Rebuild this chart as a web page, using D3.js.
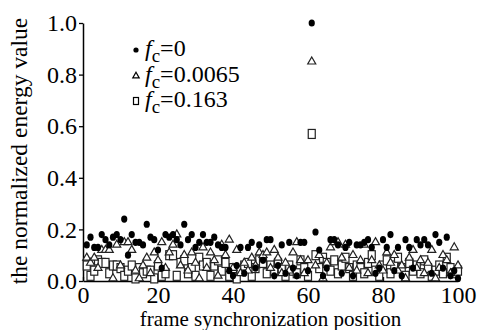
<!DOCTYPE html>
<html>
<head>
<meta charset="utf-8">
<script src="https://cdn.jsdelivr.net/npm/d3@7/dist/d3.min.js"></script>
<style>
    body { margin: 0; background: #fff; }
    svg text { font-family: "Liberation Serif", Tinos, "Times New Roman", Times, "DejaVu Serif", serif; fill: #000; }
</style>
</head>
<body>
<div id="chart"></div>
<script>

// frame synchronization positions 1..100
const positions = d3.range(1, 101);

// f_c = 0 (filled circles)
const energyFc0 = [
    0.14, 0.17, 0.13, 0.13, 0.18, 0.16, 0.14, 0.17, 0.18, 0.16,
    0.24, 0.10, 0.18, 0.15, 0.15, 0.14, 0.22, 0.17, 0.16, 0.12,
    0.05, 0.18, 0.17, 0.18, 0.16, 0.14, 0.22, 0.16, 0.18, 0.13,
    0.15, 0.18, 0.15, 0.15, 0.17, 0.14, 0.13, 0.13, 0.04, 0.02,
    0.06, 0.13, 0.03, 0.13, 0.15, 0.05, 0.14, 0.08, 0.16, 0.16,
    0.02, 0.06, 0.14, 0.03, 0.15, 0.05, 0.02, 0.15, 0.15, 0.04,
    1.00, 0.19, 0.12, 0.02, 0.05, 0.16, 0.16, 0.14, 0.03, 0.13,
    0.15, 0.02, 0.14, 0.14, 0.15, 0.16, 0.13, 0.03, 0.05, 0.16,
    0.13, 0.18, 0.04, 0.13, 0.02, 0.16, 0.13, 0.05, 0.16, 0.14,
    0.16, 0.14, 0.03, 0.18, 0.15, 0.05, 0.17, 0.02, 0.04, 0.01
];

// f_c = 0.0065 (open triangles)
const energyFc1 = [
    0.09, 0.07, 0.09, 0.05, 0.12, 0.12, 0.12, 0.01, 0.14, 0.06,
    0.15, 0.15, 0.12, 0.04, 0.01, 0.06, 0.09, 0.03, 0.11, 0.08,
    0.15, 0.05, 0.11, 0.14, 0.18, 0.06, 0.10, 0.04, 0.11, 0.07,
    0.01, 0.13, 0.05, 0.11, 0.08, 0.02, 0.14, 0.10, 0.16, 0.05,
    0.12, 0.03, 0.07, 0.04, 0.09, 0.06, 0.11, 0.10, 0.11, 0.05,
    0.12, 0.09, 0.03, 0.07, 0.04, 0.11, 0.15, 0.08, 0.03, 0.08,
    0.85, 0.06, 0.10, 0.01, 0.07, 0.13, 0.15, 0.15, 0.09, 0.14,
    0.05, 0.10, 0.04, 0.08, 0.14, 0.03, 0.08, 0.15, 0.06, 0.04,
    0.11, 0.07, 0.10, 0.04, 0.06, 0.01, 0.09, 0.12, 0.05, 0.08,
    0.03, 0.07, 0.12, 0.01, 0.05, 0.10, 0.08, 0.03, 0.13, 0.06
];

// f_c = 0.163 (open squares)
const energyFc2 = [
    0.06, 0.02, 0.04, 0.08, 0.07, 0.07, 0.03, 0.06, 0.06, 0.05,
    0.02, 0.04, 0.06, 0.01, 0.05, 0.03, 0.04, 0.04, 0.01, 0.06,
    0.02, 0.03, 0.10, 0.10, 0.02, 0.07, 0.08, 0.03, 0.05, 0.02,
    0.09, 0.06, 0.07, 0.02, 0.06, 0.08, 0.04, 0.07, 0.02, 0.05,
    0.01, 0.04, 0.06, 0.07, 0.02, 0.05, 0.08, 0.07, 0.03, 0.06,
    0.04, 0.07, 0.05, 0.02, 0.06, 0.04, 0.03, 0.08, 0.05, 0.02,
    0.57, 0.10, 0.05, 0.09, 0.07, 0.04, 0.08, 0.03, 0.06, 0.09,
    0.05, 0.02, 0.06, 0.05, 0.03, 0.07, 0.10, 0.04, 0.02, 0.06,
    0.08, 0.03, 0.06, 0.09, 0.05, 0.02, 0.07, 0.04, 0.06, 0.03,
    0.08, 0.05, 0.02, 0.04, 0.06, 0.03, 0.09, 0.05, 0.03, 0.04
];

const legendValues = ["0", "0.0065", "0.163"];
const xTicks = [0, 20, 40, 60, 80, 100];
const yTicks = [0, 0.2, 0.4, 0.6, 0.8, 1.0];

const serif = '"Liberation Serif", Tinos, "Times New Roman", Times, "DejaVu Serif", serif';

let margin = {top: 23, right: 22, bottom: 49, left: 83};
let width = 480 - margin.left - margin.right;
let height = 330 - margin.top - margin.bottom;

let svg = d3.select("#chart").append("svg")
    .attr("width", 480)
    .attr("height", 330)
    .attr("font-family", serif);

let g = svg.append("g")
    .attr("transform", `translate(${margin.left}, ${margin.top})`);

let x = d3.scaleLinear().domain([0, 100]).range([0, width]);
let y = d3.scaleLinear().domain([0, 1]).range([height, 0]);

// axes
let xAxis = g.append("g")
    .attr("transform", `translate(0, ${height})`)
    .call(d3.axisBottom(x).tickValues(xTicks).tickSize(-4).tickSizeOuter(0).tickPadding(5));

let yAxis = g.append("g")
    .call(d3.axisLeft(y).tickValues(yTicks).tickFormat(d3.format(".1f")).tickSize(4).tickSizeOuter(0).tickPadding(2));

[xAxis, yAxis].forEach(a => {
    a.attr("font-family", serif).attr("font-size", 24);
    a.select(".domain").attr("stroke", "#000").attr("stroke-width", 1.5);
    a.selectAll(".tick line").attr("stroke", "#000").attr("stroke-width", 1.3);
    a.selectAll("text").attr("fill", "#000");
});

// axis titles
svg.append("text")
    .attr("x", margin.left + width / 2)
    .attr("y", 326)
    .attr("text-anchor", "middle")
    .attr("font-size", 21)
    .text("frame synchronization position");

svg.append("text")
    .attr("transform", `translate(27, ${margin.top + 128}) rotate(-90)`)
    .attr("text-anchor", "middle")
    .attr("font-size", 23.5)
    .text("the normalized energy value");

// markers: squares, then triangles, then circles on top
let triangle = d3.symbol().type(d3.symbolTriangle).size(28);

g.selectAll(".sq")
    .data(positions)
    .enter()
    .append("rect")
    .attr("class", "sq")
    .attr("x", d => x(d) - 3.5)
    .attr("y", (d, i) => y(energyFc2[i]) - 4.5)
    .attr("width", 7)
    .attr("height", 9)
    .attr("fill", "white")
    .attr("stroke", "#222")
    .attr("stroke-width", 1.2);

g.selectAll(".tri")
    .data(positions)
    .enter()
    .append("path")
    .attr("class", "tri")
    .attr("d", triangle)
    .attr("transform", (d, i) => `translate(${x(d)}, ${y(energyFc1[i])})`)
    .attr("fill", "white")
    .attr("stroke", "#222")
    .attr("stroke-width", 1.2);

g.selectAll(".dot")
    .data(positions)
    .enter()
    .append("ellipse")
    .attr("class", "dot")
    .attr("cx", d => x(d))
    .attr("cy", (d, i) => y(energyFc0[i]))
    .attr("rx", 3.1)
    .attr("ry", 3.6)
    .attr("fill", "#000");

// legend
let legend = svg.append("g").attr("transform", "translate(136, 0)");
let legendY = [50, 76, 101];

legend.append("circle").attr("cx", 0).attr("cy", legendY[0]).attr("r", 2.6).attr("fill", "#000");
legend.append("path")
    .attr("d", d3.symbol().type(d3.symbolTriangle).size(18))
    .attr("transform", `translate(0, ${legendY[1]})`)
    .attr("fill", "white").attr("stroke", "#000").attr("stroke-width", 1.2);
legend.append("rect")
    .attr("x", -2.5).attr("y", legendY[2] - 3.5).attr("width", 5).attr("height", 7)
    .attr("fill", "white").attr("stroke", "#000").attr("stroke-width", 1.2);

legendValues.forEach((v, i) => {
    let t = legend.append("text")
        .attr("x", 9)
        .attr("y", legendY[i] + 6)
        .attr("font-size", 24);
    t.append("tspan").attr("font-style", "italic").text("f");
    t.append("tspan").attr("dy", 6).attr("font-size", 19).text("c");
    t.append("tspan").attr("dy", -6).text("=" + v);
});

</script>
</body>
</html>
